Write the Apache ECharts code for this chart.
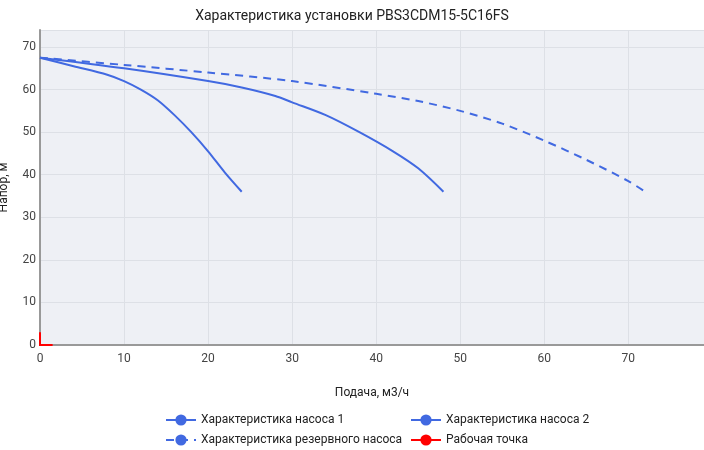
<!DOCTYPE html><html><head><meta charset="utf-8"><script src="https://cdn.jsdelivr.net/npm/echarts@6/dist/echarts.min.js"></script></head><body style="margin:0"><div id="c" style="width:704px;height:450px"></div><script>
const pump1 = [[0,67.5],[4,65.5],[8,63.5],[10,62],[12,60],[14,57.5],[16,54],[18,50],[20,45.5],[22,40.5],[24,36]];
const pump2 = [[0,67.5],[10,65],[20,62],[24,60.5],[28,58.5],[30,57],[34,54],[38,50],[42,45.5],[45,41.5],[48,36]];
const reserve = [[0,67.5],[10,65.8],[20,64],[30,62],[40,59],[45,57.3],[50,55],[55,52],[60,48],[65,43.5],[70,38.5],[72,36]];
const workPoint = [[0,-3],[0,3],'-',[-1.5,0],[1.5,0]];
const names = ['Характеристика насоса 1','Характеристика насоса 2','Характеристика резервного насоса','Рабочая точка'];
const blue='#4169e1';
const ch=echarts.init(document.getElementById('c'));
const ls={fontFamily:'Roboto',fontSize:12,color:'#222'};
const pos=[[160,409],[405,409],[160,429],[405,429]];
const leg=names.map((n,i)=>({data:[n],left:pos[i][0],top:pos[i][1],itemWidth:30,itemHeight:14,textStyle:ls}));
ch.setOption({
 title:{text:'Характеристика установки PBS3CDM15-5C16FS',left:'center',top:4,textStyle:{fontFamily:'Roboto',fontSize:14,fontWeight:'normal',color:'#222'}},
 legend:leg,
 grid:{left:40,right:0,top:30,bottom:105,backgroundColor:'#eef0f5',show:true,borderWidth:0,containLabel:false,outerBoundsMode:'none'},
 xAxis:{type:'value',min:0,max:79,interval:10,name:'Подача, м3/ч',nameLocation:'middle',nameGap:42,nameTextStyle:ls,
  axisLine:{lineStyle:{color:'#999',width:2}},axisTick:{show:false},axisLabel:{color:'#444',fontFamily:'Roboto',formatter:v=>v%10===0?v:''},splitLine:{lineStyle:{color:'#dde0e6'}}},
 yAxis:{type:'value',min:0,max:74,interval:10,name:'Напор, м',nameLocation:'middle',nameGap:30,nameTextStyle:ls,
  axisLine:{show:true,lineStyle:{color:'#999',width:2}},axisTick:{show:false},axisLabel:{color:'#444',fontFamily:'Roboto',margin:4,formatter:v=>v%10===0?v:''},splitLine:{lineStyle:{color:'#dde0e6'}}},
 series:[
  {name:names[0],type:'line',data:pump1,smooth:0.3,symbol:'none',lineStyle:{color:blue,width:2},itemStyle:{color:blue}},
  {name:names[1],type:'line',data:pump2,smooth:0.3,symbol:'none',lineStyle:{color:blue,width:2},itemStyle:{color:blue}},
  {name:names[2],type:'line',data:reserve,smooth:0.3,symbol:'none',lineStyle:{color:blue,width:2,type:[8,6]},itemStyle:{color:blue}},
  {name:names[3],type:'line',data:workPoint,symbol:'none',connectNulls:false,lineStyle:{color:'red',width:2},itemStyle:{color:'red'},legendIcon:'path://M0,6L12,6L12,8L0,8Z M5,0L7,0L7,14L5,14Z'}
 ]});
</script></body></html>
